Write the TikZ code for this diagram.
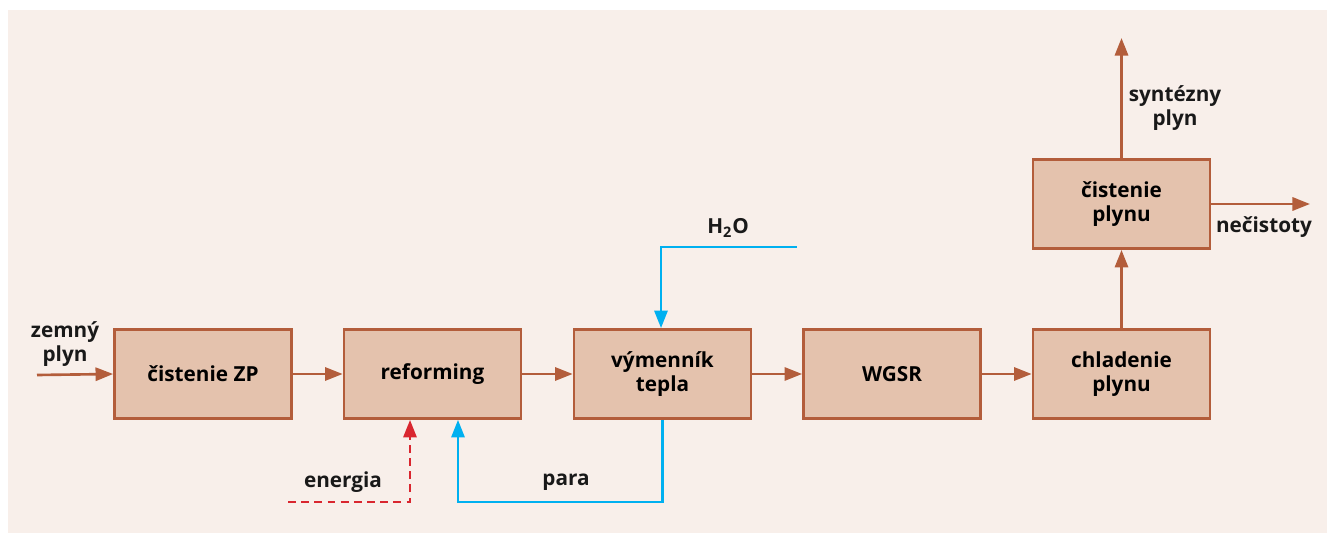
\documentclass[tikz,border=0pt]{standalone}
\usepackage{fontspec}
\setmainfont{Open Sans}
\usetikzlibrary{arrows.meta}
\definecolor{hneda}{HTML}{B35D3B}
\definecolor{vypln}{HTML}{E4C2AD}
\definecolor{podklad}{HTML}{F8EFEA}
\definecolor{modra}{HTML}{00B0F0}
\definecolor{cervena}{HTML}{D9262F}
\tikzset{
  blok/.style={draw=hneda,fill=vypln,line width=1.6pt,minimum width=3.54cm,
    minimum height=1.78cm,align=center,inner sep=0pt},
  tok/.style={hneda,line width=1.5pt,-{Triangle[length=10pt,width=7.5pt]}},
  popis/.style={align=center,text=black!90}
}
\begin{document}
\begin{tikzpicture}[x=0.02cm,y=-0.02cm,font=\fontsize{11.8}{14}\selectfont\bfseries]
  \useasboundingbox (0,0) rectangle (1327,533);
  \fill[podklad] (8,10) rectangle (1327,533);
  % bloky procesu
  \node[blok] (cist) at (203,374) {čistenie ZP};
  \node[blok] (ref) at (432.5,374) {reforming};
  \node[blok] (vym) at (662.5,374) {výmenník\\tepla};
  \node[blok] (wgsr) at (892,374) {WGSR};
  \node[blok] (chlad) at (1121.5,374) {chladenie\\plynu};
  \node[blok] (cplyn) at (1121.5,204) {čistenie\\plynu};
  % volne konce tokov
  \coordinate (zp) at (37,375);
  \coordinate (en) at (288,502);
  \coordinate (voda) at (797,247);
  \coordinate (syn) at (1121.5,38);
  \coordinate (nec) at (1310,204);
  % hlavna linka
  \draw[tok] (zp) -- (cist.west);
  \foreach \a/\b in {cist/ref,ref/vym,vym/wgsr,wgsr/chlad}
    \draw[tok] (\a.east) -- (\b.west);
  \draw[tok] (chlad.north) -- (cplyn.south);
  \draw[tok] (cplyn.north) -- (syn);
  \draw[tok] (cplyn.east) -- (nec);
  % energia, para a voda
  \draw[tok,cervena,dash pattern=on 4.5pt off 3pt] (en) -| ([xshift=-0.45cm]ref.south);
  \draw[tok,modra] (vym.south) -- ++(0,82) -| ([xshift=0.51cm]ref.south);
  \draw[tok,modra] (voda) -| ([xshift=-0.03cm]vym.north);
  % popisy
  \node[popis] (lzp) at (65,344) {zemný\\plyn};
  \node[popis] (len) at (343,482) {energia};
  \node[popis] (lpara) at (566,482) {para};
  \node[popis] (lvoda) at (728,228) {H\textsubscript{2}O};
  \node[popis] (lsyn) at (1175,108) {syntézny\\plyn};
  \node[popis] (lnec) at (1264,227) {nečistoty};
\end{tikzpicture}
\end{document}
